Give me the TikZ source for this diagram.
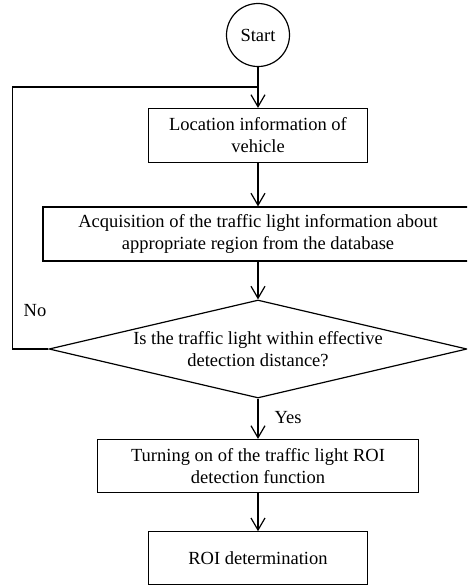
\documentclass[tikz,border=0pt]{standalone}
\usepackage{fontspec}
\setmainfont{Liberation Serif}
\usetikzlibrary{shapes.geometric,arrows.meta}
\begin{document}
\begin{tikzpicture}[x=1pt,y=-1pt,
  every node/.style={font=\fontsize{18.5}{22}\selectfont},
  box/.style={draw,line width=1.2pt,rectangle,align=center,inner sep=0pt},
  flow/.style={line width=1.2pt,-{Straight Barb[length=12pt,width=14pt,line width=1.2pt]}},
  loopline/.style={line width=1.2pt},
  lbl/.style={inner sep=0pt}]
\useasboundingbox (0,0) rectangle (467,587);
\clip (0,0) rectangle (467,587);
\node[draw,circle,minimum size=63pt,inner sep=0pt,line width=1.2pt] (start) at (258,35) {Start};
\node[box,minimum width=219pt,minimum height=54pt] (b1) at (258,135.5) {Location information of\\vehicle};
\node[box,minimum width=430pt,minimum height=54pt] (b2) at (258,234) {Acquisition of the traffic light information about\\appropriate region from the database};
\node[draw,diamond,aspect=4.27,minimum width=418pt,minimum height=98pt,inner sep=0pt,align=center,line width=1.2pt] (dia) at (258,349) {Is the traffic light within effective\\detection distance?};
\node[box,minimum width=321pt,minimum height=53pt] (b3) at (258,466) {Turning on of the traffic light ROI\\detection function};
\node[box,minimum width=219pt,minimum height=53pt] (b4) at (258,558.3) {ROI determination};
\node[lbl] (no) at (35,311) {No};
\node[lbl] (yes) at (288,418) {Yes};
\coordinate (lc) at (12.7,87);
\draw[flow] (start) -- (b1);
\draw[flow] (b1) -- (b2);
\draw[flow] (b2) -- (dia);
\draw[flow] (dia) -- (b3);
\draw[flow] (b3) -- (b4);
\draw[loopline] (dia.west) -| (lc) -- (lc -| start.south);
\end{tikzpicture}
\end{document}
